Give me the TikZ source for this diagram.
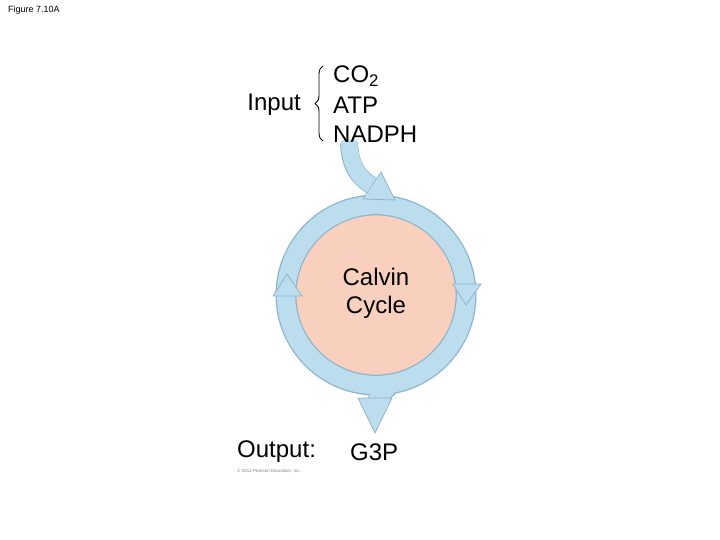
\documentclass[tikz,border=0pt]{standalone}
\usepackage{fontspec}
\setmainfont{Liberation Sans}
\usetikzlibrary{decorations.pathreplacing}
\definecolor{rim}{HTML}{8EB4CC}
\definecolor{pale}{HTML}{BCDDEE}
\definecolor{salmon}{HTML}{F9D0BE}
\begin{document}
\begin{tikzpicture}[x=1pt,y=-1pt,
  lbl/.style={font=\fontsize{24}{27}\selectfont, inner sep=0pt},
  headshape/.style={fill=pale, draw=rim, line width=0.8pt, line join=round}]
\useasboundingbox (0,0) rectangle (720,540);
\node[anchor=north west, font=\fontsize{9}{10}\selectfont, inner sep=0pt] (fig) at (8,6) {Figure 7.10A};
% shafts outlines
\draw[rim, line width=18pt] (349,143) .. controls (350,168) and (360,178) .. (372,186);
\draw[rim, line width=18pt] (392,383) .. controls (388,392) and (378,393) .. (376,402);
\draw[rim, line width=21pt] (376,295) circle (90);
% fills
\fill[salmon] (376,295) circle (80);
\draw[pale, line width=18.4pt] (376,295) circle (90);
\draw[pale, line width=16.4pt] (349,140) .. controls (350,168) and (360,178) .. (372,186);
\draw[pale, line width=16.4pt] (392,381) .. controls (388,392) and (378,393) .. (376,402);
\draw[rim, line width=0.8pt] (376,295) circle (80);
% heads
\draw[headshape] (363,199) -- (381,172) -- (395,200) -- cycle;
\draw[headshape] (453,284) -- (481,284) -- (466,305) -- cycle;
\draw[headshape] (273,296) -- (302,296) -- (287,274) -- cycle;
\draw[headshape] (358,398) -- (392,398) -- (375,433) -- cycle;
\fill[pale] (366,195) -- (379,176) -- (390,197) -- cycle;
% texts
\node[lbl] (calvin) at (376,277) {Calvin};
\node[lbl] (cycle) at (376,307) {Cycle};
\node[lbl, anchor=east] (input) at (301,105) {Input};
\node[lbl, anchor=west] (co2) at (333,76) {CO\textsubscript{2}};
\node[lbl, anchor=west] (atp) at (333,105) {ATP};
\node[lbl, anchor=west] (nadph) at (333,134) {NADPH};
\draw[line width=0.9pt, decorate, decoration={brace, amplitude=8pt}] (323,141) -- (323,66);
\node[lbl, anchor=west] (out) at (237,452) {Output:};
\node[lbl, anchor=west] (g3p) at (350,452) {G3P};
\node[anchor=west, font=\fontsize{4.5}{5}\selectfont, text=gray, inner sep=0pt] (copy) at (237,471) {© 2012 Pearson Education, Inc.};
\end{tikzpicture}
\end{document}
